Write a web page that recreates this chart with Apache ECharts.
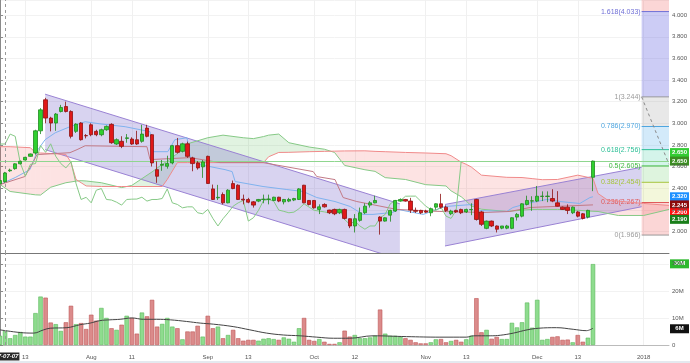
<!DOCTYPE html>
<html><head><meta charset="utf-8">
<script src="https://cdn.jsdelivr.net/npm/echarts@6/dist/echarts.min.js"></script>
<style>html,body{margin:0;padding:0;background:#fff}#c{width:690px;height:363px}</style>
</head><body><div id="c"></div><script>
// ---------- categories (trading days) ----------
const months = ['2017-07','2017-08','2017-09','2017-10','2017-11','2017-12','2018-01'];
const tradingDays = [
 [6,7,10,11,12,13,14,17,18,19,20,21,24,25,26,27,28,31],
 [1,2,3,4,7,8,9,10,11,14,15,16,17,18,21,22,23,24,25,28,29,30,31],
 [1,4,5,6,7,8,11,12,13,14,15,18,19,20,21,22,25,26,27,28,29],
 [2,3,4,5,6,9,10,11,12,13,16,17,18,19,20,23,24,25,26,27,30,31],
 [1,2,3,6,7,8,9,10,13,14,15,16,17,20,21,22,23,24,27,28,29,30],
 [1,4,5,6,7,8,11,12,13,14,15,18,19,20,21,22,25,26,27,28,29],
 [1,2,3,4,5,8]
];
const categories = [];
months.forEach((m,i)=>tradingDays[i].forEach(d=>categories.push(m+'-'+String(d).padStart(2,'0'))));
const tickDates = ['2017-07-13','2017-08-01','2017-08-11','2017-09-01','2017-09-13','2017-10-02','2017-10-12','2017-11-01','2017-11-13','2017-12-01','2017-12-13','2018-01-01'];
const tickLabels = ['13','Aug','11','Sep','13','Oct','12','Nov','13','Dec','13','2018'];
const crossDate = '2017-07-07';

// ---------- OHLC ----------
const open = [2.44,2.46,2.56,2.58,2.625,2.66,2.694,2.725,2.93,3.217,3.048,3.002,3.109,3.155,3.109,2.925,3.002,2.886,2.986,2.925,
2.894,2.94,2.99,2.808,2.833,2.86,2.854,2.848,2.833,2.955,2.894,2.571,2.612,2.602,2.633,2.793,2.74,2.81,2.679,2.633,
2.597,2.694,2.393,2.31,2.341,2.264,2.442,2.427,2.298,2.295,2.273,2.28,2.295,2.296,2.286,2.316,2.273,2.28,2.29,2.295,
2.427,2.286,2.286,2.203,2.249,2.197,2.203,2.172,2.203,2.117,2.05,2.102,2.172,2.243,2.264,2.132,2.095,2.15,2.188,2.28,
2.295,2.28,2.194,2.194,2.188,2.172,2.224,2.255,2.224,2.163,2.194,2.203,2.18,2.20,2.295,2.18,2.028,2.095,2.05,2.03,
2.03,2.028,2.132,2.141,2.249,2.28,2.28,2.323,2.323,2.304,2.264,2.224,2.224,2.172,2.18,2.163,2.132,2.50];
const high = [2.49,2.55,2.58,2.63,2.655,2.69,2.72,2.94,3.14,3.235,3.06,3.095,3.17,3.20,3.12,3.00,3.01,2.90,3.00,2.94,
2.95,2.98,3.00,2.86,2.88,2.90,2.87,2.93,2.986,2.986,2.90,2.648,2.66,2.70,2.80,2.864,2.82,2.83,2.69,2.65,
2.66,2.70,2.433,2.43,2.36,2.39,2.47,2.435,2.34,2.31,2.28,2.30,2.34,2.34,2.32,2.32,2.30,2.31,2.31,2.40,
2.43,2.29,2.29,2.25,2.26,2.20,2.21,2.21,2.21,2.12,2.16,2.22,2.26,2.28,2.33,2.14,2.13,2.20,2.29,2.305,
2.30,2.31,2.22,2.20,2.20,2.22,2.26,2.347,2.24,2.20,2.20,2.21,2.21,2.26,2.30,2.19,2.10,2.10,2.055,2.05,
2.06,2.13,2.17,2.26,2.33,2.325,2.42,2.37,2.37,2.39,2.372,2.23,2.25,2.23,2.19,2.17,2.20,2.655];
const low = [2.42,2.45,2.55,2.57,2.62,2.655,2.69,2.71,2.90,3.00,2.925,2.93,3.10,3.10,2.86,2.91,2.84,2.86,2.88,2.88,
2.88,2.93,2.81,2.80,2.77,2.82,2.80,2.80,2.82,2.87,2.60,2.449,2.56,2.58,2.62,2.72,2.73,2.68,2.556,2.571,
2.495,2.44,2.29,2.29,2.25,2.26,2.39,2.29,2.25,2.26,2.22,2.27,2.26,2.25,2.28,2.27,2.25,2.27,2.28,2.29,
2.26,2.24,2.21,2.16,2.22,2.16,2.15,2.16,2.11,2.03,1.99,2.09,2.16,2.22,2.26,1.97,2.09,2.09,2.18,2.275,
2.275,2.17,2.17,2.16,2.17,2.14,2.20,2.21,2.18,2.15,2.17,2.16,2.17,2.15,2.10,2.05,2.02,2.04,1.99,2.02,
2.02,2.02,2.10,2.13,2.24,2.19,2.27,2.28,2.27,2.27,2.23,2.20,2.16,2.16,2.13,2.11,2.12,2.372];
const close = [2.47,2.54,2.567,2.625,2.648,2.685,2.716,2.93,3.124,3.048,3.002,3.085,3.146,3.109,2.879,2.992,2.848,2.884,2.894,2.894,
2.94,2.971,2.82,2.848,2.787,2.865,2.808,2.808,2.90,2.879,2.633,2.51,2.62,2.627,2.793,2.731,2.81,2.694,2.627,2.587,
2.642,2.443,2.295,2.315,2.264,2.381,2.396,2.295,2.29,2.27,2.243,2.295,2.298,2.299,2.316,2.28,2.295,2.295,2.304,2.393,
2.264,2.249,2.218,2.227,2.227,2.172,2.163,2.203,2.12,2.05,2.117,2.172,2.233,2.264,2.286,2.095,2.126,2.194,2.286,2.295,
2.28,2.197,2.185,2.172,2.178,2.21,2.255,2.224,2.194,2.188,2.18,2.172,2.203,2.203,2.11,2.065,2.095,2.05,2.02,2.05,
2.05,2.126,2.157,2.255,2.286,2.283,2.325,2.326,2.326,2.28,2.233,2.203,2.194,2.224,2.141,2.12,2.194,2.65];
// volume, millions
const volume = [3.4,5.2,2.5,3.7,4.8,3.1,3.1,11.8,17.9,17.5,8.3,7.7,5.2,8.4,14.5,7.7,8.1,5.9,11.2,9.0,
13.7,10.0,6.2,5.6,7.5,10.8,10.0,4.2,12.0,10.6,16.7,6.8,7.8,10.0,6.8,6.2,2.1,5.0,5.0,7.1,
3.1,10.8,6.2,6.8,2.5,3.7,5.6,2.5,1.6,1.9,1.9,1.6,2.3,2.5,2.2,1.9,2.8,2.3,1.2,6.2,
10.0,1.9,1.5,2.2,1.2,0.4,0.4,1.0,5.3,3.1,3.7,2.5,2.5,2.8,3.4,13.1,4.2,3.4,3.4,3.0,
2.5,1.9,1.0,0.6,0.6,1.0,2.1,2.2,1.0,1.5,1.9,1.2,2.1,3.4,17.3,4.7,5.6,2.3,3.0,2.2,
2.2,8.2,6.5,8.4,15.7,6.4,16.7,1.9,2.2,3.0,3.2,1.9,2.0,1.0,3.7,1.2,2.7,29.9];
const volumeMA = [[0,5.6],[4,4.6],[6.6,4.4],[8.6,5.6],[9.9,6.2],[13.2,6.4],[15.8,7.5],[17.8,8.1],[19.7,9.0],[21.7,9.3],[23.7,9.5],[26,10.0],[28.3,9.5],[30.9,9.5],[33.6,9.3],[36.8,8.7],[39.5,8.1],[42.1,7.7],[46,6.8],[49.3,5.6],[52.6,4.4],[55.9,3.7],[59.2,3.4],[62.5,2.9],[65.8,2.5],[69,2.5],[73.6,3.4],[80.2,3.1],[86.8,2.9],[92,2.9],[93.4,3.4],[96.7,3.4],[98.7,3.6],[101.3,4.4],[104,5.6],[106.3,6.2],[109.8,6.4],[113.1,5.8],[115.7,5.3],[117,6.2]];

// ---------- Ichimoku ----------
const tenkan = [[0,2.433],[3,2.498],[5.9,2.571],[7.5,2.756],[8.9,2.848],[10.9,2.912],[13.8,2.968],[16.8,3.014],[19.7,2.995],[24.7,2.968],[29.6,2.922],[30.2,2.737],[33.1,2.737],[34.5,2.848],[36.9,2.866],[37.5,2.691],[39.5,2.617],[44.4,2.571],[45.8,2.553],[46.4,2.461],[51.9,2.415],[56.6,2.387],[59.8,2.369],[62.5,2.313],[66.1,2.276],[69.1,2.23],[71.6,2.157],[73.6,2.157],[77.5,2.175],[78.5,2.203],[83.5,2.157],[87.8,2.23],[93.3,2.249],[94.7,2.193],[100,2.184],[101.2,2.221],[104,2.258],[107.9,2.295],[110.5,2.276],[114.4,2.258],[116.4,2.313],[117,2.32]];
const kijun = [[0,2.433],[4.9,2.507],[6.5,2.636],[7.3,2.71],[13.8,2.728],[15.2,2.756],[16.8,2.792],[29,2.783],[29.6,2.664],[37.5,2.682],[43.4,2.636],[51.9,2.636],[61.8,2.553],[62.5,2.507],[66.1,2.479],[67.7,2.313],[70.4,2.276],[78.3,2.203],[86.8,2.184],[95.7,2.175],[100.6,2.184],[104.6,2.221],[117,2.245]];
const cloudIdx = [0,2,6,7,8,10,13,14,15,16,17,20,24,26,30,32,33,35,37,41,44,48,50,52,53,55,57,61,64,66,68,72,74,76,80,84,88,89,91,92,93,95,100,103,105,107,110,114,117,118,120,122,127,132];
const spanA = [2.433,2.369,2.344,2.338,2.336,2.408,2.45,2.457,2.465,2.469,2.466,2.45,2.405,2.425,2.55,2.62,2.65,2.72,2.81,2.866,2.89,2.866,2.858,2.877,2.89,2.90,2.82,2.78,2.76,2.73,2.61,2.57,2.555,2.497,2.48,2.432,2.42,2.375,2.32,2.28,2.235,2.205,2.184,2.196,2.203,2.203,2.203,2.195,2.186,2.184,2.165,2.147,2.147,2.203];
const spanB = [2.783,2.783,2.774,2.727,2.725,2.72,2.712,2.64,2.48,2.45,2.42,2.415,2.415,2.415,2.415,2.415,2.48,2.636,2.636,2.636,2.636,2.636,2.636,2.636,2.69,2.73,2.731,2.737,2.74,2.742,2.744,2.745,2.74,2.737,2.73,2.725,2.718,2.70,2.64,2.62,2.595,2.52,2.50,2.498,2.488,2.478,2.48,2.52,2.49,2.35,2.285,2.28,2.258,2.24];
const chikouShift = 26;

// ---------- drawings ----------
const downChannel = [8.9, 78.9, 3.269, 2.255, 2.756, 1.742];
const upChannel = [87.8, 126.6, 2.249, 2.593, 1.865, 2.228];
const fibRatios = ['0','0.236','0.382','0.5','0.618','0.786','1','1.618'];
const fibPrices = [1.966,2.267,2.454,2.605,2.756,2.970,3.244,4.033];
const fibExtTop = 5.31;
const fibSpan = [126.6, 132];
const fibTrend = [[126.6,3.244],[132,2.62]];
const priceTagValues = [2.650,2.650,2.320,2.245,2.200,2.190];
const volTagValues = [30,6];

// ---------- styles ----------
const fibLineColors = ['#9a9a9a','#e05a5a','#a6c43c','#3fb83f','#2cbf96','#4ea6e0','#9a9a9a','#6f6fd6'];
const fibFillColors = ['rgba(240,90,90,0.25)','rgba(200,220,90,0.22)','rgba(90,200,90,0.2)','rgba(40,200,150,0.2)','rgba(80,170,235,0.25)','rgba(150,150,150,0.22)','rgba(100,100,225,0.33)','rgba(240,90,90,0.25)'];
const priceTagColors = ['#33cc33','#3b8e22','#1e90ff','#8b0a0a','#ff1010','#1a7f1a'];
const priceTagShift = [-8.5,0,0,0,3,8.5];
const volTagColors = ['#2db82d','#111111'];
const GREEN='#2fd02f', GREEN_B='#218a21', RED='#e01818', RED_B='#8e1212';

const tickSet = new Set(tickDates);
const cloudSegs = [];
for (let k=0;k<cloudIdx.length-1;k++) cloudSegs.push([cloudIdx[k],spanA[k],spanB[k],cloudIdx[k+1],spanA[k+1],spanB[k+1]]);
const fibBands = fibPrices.map((p,k)=>[fibSpan[0],fibSpan[1],p,k<fibPrices.length-1?fibPrices[k+1]:fibExtTop,k]);
const fibLevels = fibPrices.map((p,k)=>[fibSpan[0],fibSpan[1],p,k]);
const candleData = open.map((o,i)=>[o,close[i],low[i],high[i]]);
const volData = volume.map((v,i)=>({value:v*1e6, itemStyle:{color: close[i]>=open[i]?'#8edc8e':'#db8b8b', borderColor: close[i]>=open[i]?'#5bb85b':'#bf5757'}}));

function renderCloud(params, api){
  const x0=api.value(0),a0=api.value(1),b0=api.value(2),x1=api.value(3),a1=api.value(4),b1=api.value(5);
  const G='rgba(90,190,90,0.18)', R='rgba(245,80,80,0.16)';
  const d0=a0-b0, d1=a1-b1;
  const c=(x,y)=>api.coord([x,y]);
  if (d0*d1>=0) {
    return {type:'polygon', shape:{points:[c(x0,a0),c(x1,a1),c(x1,b1),c(x0,b0)]}, style:{fill:(d0+d1)>=0?G:R}};
  }
  const t=d0/(d0-d1), xc=x0+t*(x1-x0), yc=a0+t*(a1-a0);
  return {type:'group', children:[
    {type:'polygon', shape:{points:[c(x0,a0),c(xc,yc),c(x0,b0)]}, style:{fill:d0>0?G:R}},
    {type:'polygon', shape:{points:[c(xc,yc),c(x1,a1),c(x1,b1)]}, style:{fill:d1>0?G:R}}
  ]};
}
function renderChannel(params, api){
  const A=api.coord([api.value(0),api.value(2)]), B=api.coord([api.value(1),api.value(3)]);
  const C=api.coord([api.value(1),api.value(5)]), D=api.coord([api.value(0),api.value(4)]);
  return {type:'group', children:[
    {type:'polygon', shape:{points:[A,B,C,D]}, style:{fill:'rgba(112,92,200,0.27)'}},
    {type:'line', shape:{x1:A[0],y1:A[1],x2:B[0],y2:B[1]}, style:{stroke:'#9a82d4',lineWidth:1}},
    {type:'line', shape:{x1:D[0],y1:D[1],x2:C[0],y2:C[1]}, style:{stroke:'#9a82d4',lineWidth:1}}
  ]};
}
function renderFibBand(params, api){
  const k=api.value(4);
  const A=api.coord([api.value(0),api.value(3)]), B=api.coord([api.value(1),api.value(2)]);
  return {type:'rect', shape:{x:A[0],y:A[1],width:B[0]-A[0],height:B[1]-A[1]}, style:{fill:fibFillColors[k]}};
}
function renderFibLevel(params, api){
  const k=api.value(3), p=api.value(2);
  const A=api.coord([api.value(0),p]), B=api.coord([api.value(1),p]);
  return {type:'group', children:[
    {type:'line', shape:{x1:A[0],y1:A[1],x2:B[0],y2:B[1]}, style:{stroke:fibLineColors[k],lineWidth:1}},
    {type:'text', x:A[0]-1, y:A[1], style:{text:fibRatios[k]+'('+fibPrices[k].toFixed(3)+')', fill:fibLineColors[k], fontSize:7, fontFamily:'Liberation Sans', align:'right', verticalAlign:'middle'}}
  ]};
}

const chart = echarts.init(document.getElementById('c'));
const axisGrey = '#8a8a8a';
const option = {
  animation:false,
  backgroundColor:'#fff',
  textStyle:{fontFamily:'Liberation Sans'},
  grid:[
    {left:0, right:21, top:0, height:253, outerBoundsMode:'none'},
    {left:0, right:21, top:253, height:92, outerBoundsMode:'none'}
  ],
  xAxis:[
    {type:'category', gridIndex:0, data:categories, boundaryGap:false,
      axisLine:{show:true, lineStyle:{color:'#777'}}, axisTick:{show:false}, axisLabel:{show:false},
      splitLine:{show:true, interval:(i,v)=>tickSet.has(v), lineStyle:{color:'#f0f0f0'}}},
    {type:'category', gridIndex:1, data:categories, boundaryGap:false, offset:6,
      axisLine:{show:true, lineStyle:{color:'#bbb'}}, axisTick:{show:false},
      axisLabel:{show:true, interval:(i,v)=>tickSet.has(v), fontSize:6, color:'#555', margin:3,
        formatter:(v)=>{const j=tickDates.indexOf(v); return j<0?'':tickLabels[j];}},
      splitLine:{show:true, interval:(i,v)=>tickSet.has(v), lineStyle:{color:'#f0f0f0'}}},
    {type:'value', gridIndex:0, min:0, max:categories.length-1, show:false},
    {type:'value', gridIndex:1, min:0, max:categories.length-1, show:false}
  ],
  yAxis:[
    {type:'value', gridIndex:0, position:'right', min:1.8, max:4.14, interval:0.2,
      axisLine:{show:true, lineStyle:{color:axisGrey}}, axisTick:{show:true, length:3, lineStyle:{color:axisGrey}},
      axisLabel:{fontSize:6, color:'#555', margin:3, showMinLabel:false, showMaxLabel:false, formatter:v=>v.toFixed(3)},
      splitLine:{show:true, lineStyle:{color:'#f2f2f2'}}},
    {type:'value', gridIndex:1, position:'right', min:0, max:34e6, interval:10e6,
      axisLine:{show:true, lineStyle:{color:axisGrey}}, axisTick:{show:true, length:3, lineStyle:{color:axisGrey}},
      axisLabel:{fontSize:6, color:'#555', margin:3, showMaxLabel:false, formatter:v=>v===0?'0':(v/1e6)+'M'},
      splitLine:{show:true, lineStyle:{color:'#f2f2f2'}}}
  ],
  series:[
    {type:'custom', name:'cloud', xAxisIndex:2, yAxisIndex:0, data:cloudSegs, renderItem:renderCloud, clip:true, z:1, silent:true},
    {type:'custom', name:'fibBands', xAxisIndex:2, yAxisIndex:0, data:fibBands, renderItem:renderFibBand, clip:true, z:1, silent:true},
    {type:'custom', name:'channels', xAxisIndex:2, yAxisIndex:0, data:[downChannel, upChannel], renderItem:renderChannel, clip:true, z:2, silent:true},
    {type:'custom', name:'fibLevels', xAxisIndex:2, yAxisIndex:0, data:fibLevels, renderItem:renderFibLevel, clip:false, z:3, silent:true},
    {type:'line', name:'fibTrend', xAxisIndex:2, yAxisIndex:0, data:fibTrend, symbol:'none', lineStyle:{color:'#8a8a8a', width:1, type:[3,3]}, z:3, silent:true},
    {type:'line', name:'spanA', xAxisIndex:2, yAxisIndex:0, data:spanA.map((v,k)=>[cloudIdx[k],v]), symbol:'none', lineStyle:{color:'#86c986', width:1}, z:3, silent:true},
    {type:'line', name:'spanB', xAxisIndex:2, yAxisIndex:0, data:spanB.map((v,k)=>[cloudIdx[k],v]), symbol:'none', lineStyle:{color:'#f08a8a', width:1}, z:3, silent:true},
    {type:'line', name:'tenkan', xAxisIndex:2, yAxisIndex:0, data:tenkan, symbol:'none', lineStyle:{color:'#7fb2ee', width:1}, z:3, silent:true},
    {type:'line', name:'kijun', xAxisIndex:2, yAxisIndex:0, data:kijun, symbol:'none', lineStyle:{color:'#c27a86', width:1}, z:3, silent:true},
    {type:'line', name:'chikou', xAxisIndex:0, yAxisIndex:0, data:close.slice(chikouShift), symbol:'none', lineStyle:{color:'#86c986', width:1}, z:3, silent:true},
    {type:'candlestick', name:'price', xAxisIndex:0, yAxisIndex:0, data:candleData, barWidth:3.8, z:5,
      itemStyle:{color:GREEN, color0:RED, borderColor:GREEN_B, borderColor0:RED_B, borderWidth:0.8},
      markLine:{symbol:['none','none'], silent:true, label:{show:false},
        data:[{yAxis:close[close.length-1], lineStyle:{color:'#8fd68f', width:1, type:'solid'}},
              {xAxis:crossDate, lineStyle:{color:'#999', width:1, type:[3,3]}}]}},
    {type:'bar', name:'volume', xAxisIndex:1, yAxisIndex:1, data:volData, barWidth:4.4, z:2,
      itemStyle:{borderWidth:0.6},
      markLine:{symbol:['none','none'], silent:true, label:{show:false},
        data:[{xAxis:crossDate, lineStyle:{color:'#999', width:1, type:[3,3]}}]}},
    {type:'line', name:'volMA', xAxisIndex:3, yAxisIndex:1, data:volumeMA.map(p=>[p[0],p[1]*1e6]), symbol:'none', smooth:0.4, lineStyle:{color:'#444', width:1}, z:3, silent:true}
  ]
};
chart.setOption(option);

function tag(y, text, bg){
  return {type:'group', z:100, children:[
    {type:'rect', shape:{x:670, y:y-4.5, width:19, height:9}, style:{fill:bg}},
    {type:'text', x:679.5, y:y, style:{text:text, fill:'#fff', fontSize:6, fontWeight:'bold', fontFamily:'Liberation Sans', align:'center', verticalAlign:'middle'}}
  ]};
}
const tags = [];
priceTagValues.forEach((v,i)=>{ tags.push(tag(chart.convertToPixel({yAxisIndex:0}, v)+priceTagShift[i], v.toFixed(3), priceTagColors[i])); });
volTagValues.forEach((v,i)=>{ tags.push(tag(chart.convertToPixel({yAxisIndex:1}, v*1e6), v+'M', volTagColors[i])); });
// crosshair date label on the time axis
const crossX = chart.convertToPixel({xAxisIndex:1}, crossDate);
tags.push({type:'text', z:100, x:crossX-2, y:356.5, style:{text:crossDate, fill:'#fff', backgroundColor:'#2a2a2a', padding:[1,1,1,1], fontSize:6, fontWeight:'bold', fontStyle:'italic', fontFamily:'Liberation Sans', align:'center', verticalAlign:'middle'}});
tags.push({type:'rect', left:0, bottom:0, shape:{width:690, height:2}, style:{fill:'#e4e9ef'}});
chart.setOption({graphic:tags});
</script></body></html>
